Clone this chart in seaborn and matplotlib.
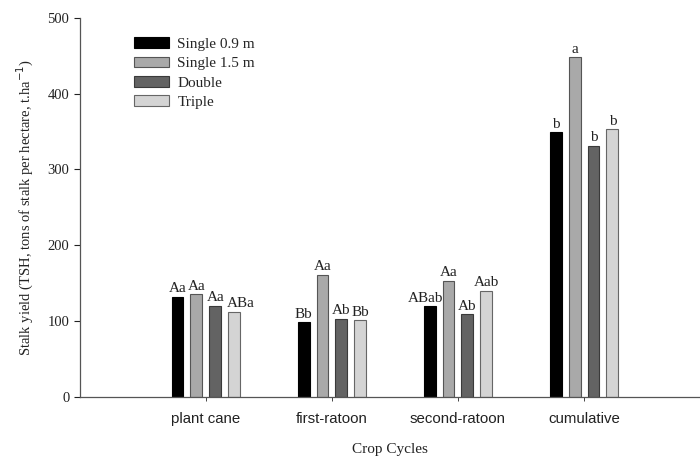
import matplotlib

matplotlib.use("Agg")
import matplotlib.pyplot as plt  # noqa: E402
import pandas as pd
import seaborn as sns

cycles = ["plant cane", "first-ratoon", "second-ratoon", "cumulative"]
treatments = ["Single 0.9 m", "Single 1.5 m", "Double", "Triple"]

single_09 = [132, 98, 119, 349]
single_15 = [135, 161, 153, 448]
double = [120, 103, 109, 331]
triple = [112, 101, 140, 353]

letters_09 = ["Aa", "Bb", "ABab", "b"]
letters_15 = ["Aa", "Aa", "Aa", "a"]
letters_double = ["Aa", "Ab", "Ab", "b"]
letters_triple = ["ABa", "Bb", "Aab", "b"]

colors = ["#000000", "#a9a9a9", "#636363", "#d4d4d4"]
edges = ["#000000", "#555555", "#3a3a3a", "#666666"]

rows = []
for name, vals, labs in zip(
    treatments,
    [single_09, single_15, double, triple],
    [letters_09, letters_15, letters_double, letters_triple],
):
    for cyc, v, lab in zip(cycles, vals, labs):
        rows.append({"cycle": cyc, "treatment": name, "yield": v, "letter": lab})
df = pd.DataFrame(rows)

sns.set_theme(style="ticks")
serif = ["Liberation Serif", "DejaVu Serif"]
sans = ["Liberation Sans", "DejaVu Sans"]
plt.rcParams["font.family"] = serif

fig = plt.figure(figsize=(7, 4.58), dpi=100)
ax = fig.add_axes([0.114, 0.134, 0.886, 0.827])

sns.barplot(
    data=df,
    x="cycle",
    y="yield",
    hue="treatment",
    order=cycles,
    hue_order=treatments,
    palette=colors,
    width=0.6,
    gap=0.37,
    linewidth=0.8,
    errorbar=None,
    legend=True,
    ax=ax,
)

# per-bar edge colour and the significance letters
anns = {}
for cont, edge, name in zip(ax.containers, edges, treatments):
    for patch in cont:
        patch.set_edgecolor(edge)
    labs = df[df["treatment"] == name].set_index("cycle").loc[cycles, "letter"]
    anns[name] = ax.bar_label(cont, labels=list(labs), padding=1, fontsize=11, color="#222222")

# nudge the long labels apart, as in the original
anns["Triple"][0].xyann = (5, 1)
anns["Single 0.9 m"][2].xyann = (-3, 1)

ax.set_xlim(-1, 3.92)
ax.set_ylim(0, 500)
ax.set_yticks([0, 100, 200, 300, 400, 500])
ax.set_ylabel("Stalk yield (TSH, tons of stalk per hectare, t.ha$^{-1}$)",
              fontsize=10.5, color="#222222", labelpad=8)
ax.set_xlabel("Crop Cycles", fontsize=11, color="#222222", labelpad=12)
ax.tick_params(axis="y", labelsize=10.5, colors="#222222", length=4, width=0.8)
ax.tick_params(axis="x", length=3, width=0.6, pad=8)
for t in ax.get_xticklabels():
    t.set_fontfamily(sans)
    t.set_fontsize(10.8)
    t.set_color("#222222")

for s in ["top", "right"]:
    ax.spines[s].set_visible(False)
for s in ["left", "bottom"]:
    ax.spines[s].set_color("#555555")
    ax.spines[s].set_linewidth(0.9)

leg = ax.legend(
    loc="upper left",
    bbox_to_anchor=(0.065, 0.985),
    frameon=False,
    fontsize=11,
    handlelength=2.3,
    handleheight=0.7,
    handletextpad=0.55,
    labelspacing=0.37,
    title=None,
)
for h, edge in zip(leg.legend_handles, edges):
    h.set_edgecolor(edge)

fig.savefig("out.png", dpi=100)
plt.close(fig)
